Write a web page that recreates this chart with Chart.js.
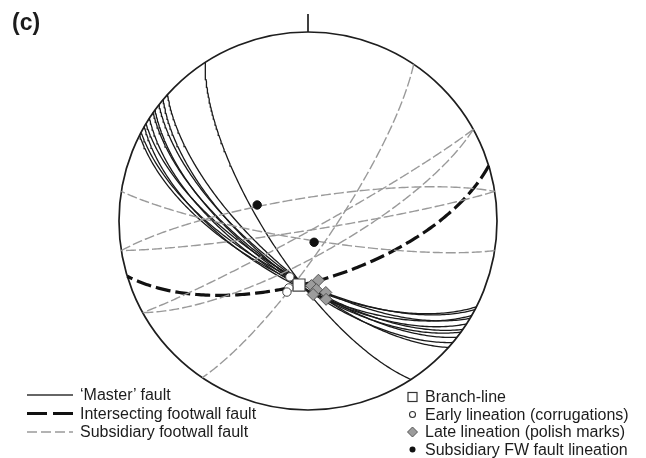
<!DOCTYPE html>
<html>
<head>
<meta charset="utf-8">
<script src="https://cdn.jsdelivr.net/npm/chart.js@4/dist/chart.umd.min.js"></script>
<style>
  html, body { margin: 0; padding: 0; background: #fff; }
  #wrap { position: relative; width: 646px; height: 458px; font-family: "Liberation Sans", Arial, sans-serif; color: #1c1c1c; }
  #net { position: absolute; left: 0; top: 0; }
  #keys { position: absolute; left: 0; top: 0; }
  .lbl { position: absolute; font-size: 16px; line-height: 18px; white-space: nowrap; }
  #tag { position: absolute; left: 12px; top: 8px; font-size: 23px; font-weight: bold; line-height: 28px; }
</style>
</head>
<body>
<div id="wrap">
  <canvas id="net" width="646" height="458"></canvas>
  <div id="tag">(c)</div>
  <svg id="keys" width="646" height="458"></svg>
</div>
<script>
// Planes: dip direction / dip (degrees)
const masterDipDir    = [207, 208, 210, 211, 213, 215, 216, 218, 220, 222, 237];
const masterDip       = [64, 65, 63, 66, 64, 66, 65, 67, 66, 68, 72];
const footwallDipDir  = [163];
const footwallDip     = [64];
const subsidDipDir    = [124, 351, 189, 151, 171, 151];
const subsidDip       = [79, 80, 82, 86, 86, 75];

// Lineations: trend / plunge (degrees)
const branchTrend  = [188];
const branchPlunge = [62];
const earlyTrend   = [198, 196, 196.5];
const earlyPlunge  = [64.6, 59.8, 57.8];
const lateTrend    = [170, 177, 173, 176, 166, 167];
const latePlunge   = [64, 62, 60, 58, 58, 55];
const fwLinTrend   = [287.5, 164];
const fwLinPlunge  = [67, 80.5];

// Legend entries
const lineKeys  = ["\u2018Master\u2019 fault", "Intersecting footwall fault", "Subsidiary footwall fault"];
const pointKeys = ["Branch-line", "Early lineation (corrugations)", "Late lineation (polish marks)", "Subsidiary FW fault lineation"];

const RAD = Math.PI / 180;

// Lower-hemisphere equal-area (Schmidt) projection of a line, unit primitive
function projectLine(trend, plunge) {
  const t = trend * RAD, p = plunge * RAD;
  const r = Math.SQRT2 * Math.sin((Math.PI / 2 - p) / 2);
  return { x: r * Math.sin(t), y: r * Math.cos(t) };
}

// Trace of a plane: sweep the lines lying in it from strike to strike
function greatCircle(dipDir, dip) {
  const s = (dipDir - 90) * RAD, d = dipDir * RAD, dp = dip * RAD;
  const pts = [];
  for (let a = 0; a <= 180; a += 1) {
    const ca = Math.cos(a * RAD), sa = Math.sin(a * RAD);
    const e = ca * Math.sin(s) + sa * Math.sin(d) * Math.cos(dp);
    const n = ca * Math.cos(s) + sa * Math.cos(d) * Math.cos(dp);
    const down = sa * Math.sin(dp);
    const k = 1 / Math.sqrt(1 + down);
    pts.push({ x: e * k, y: n * k });
  }
  return pts;
}

function planeSets(dirs, dips, style) {
  return dirs.map((dd, i) => Object.assign({
    type: 'line', data: greatCircle(dd, dips[i]), pointRadius: 0, fill: false,
    tension: 0, order: 2
  }, style));
}

function lineationSet(trends, plunges, style) {
  return Object.assign({
    type: 'scatter', data: trends.map((t, i) => projectLine(t, plunges[i])), order: 0
  }, style);
}

const datasets = [
  ...planeSets(subsidDipDir, subsidDip, { borderColor: '#9a9a9a', borderWidth: 1.4, borderDash: [10, 3] }),
  ...planeSets(masterDipDir, masterDip, { borderColor: '#1a1a1a', borderWidth: 1.3 }),
  ...planeSets(footwallDipDir, footwallDip, { borderColor: '#111', borderWidth: 3.2, borderDash: [15, 5] }),
  lineationSet(lateTrend, latePlunge, { pointStyle: 'rectRot', pointRadius: 6, backgroundColor: '#9c9c9c', borderColor: '#555', borderWidth: 1 }),
  lineationSet(earlyTrend, earlyPlunge, { pointStyle: 'circle', pointRadius: 4.2, backgroundColor: '#fff', borderColor: '#444', borderWidth: 1 }),
  lineationSet(branchTrend, branchPlunge, { pointStyle: 'rect', pointRadius: 8.5, backgroundColor: '#fff', borderColor: '#444', borderWidth: 1.2 }),
  lineationSet(fwLinTrend, fwLinPlunge, { pointStyle: 'circle', pointRadius: 4.2, backgroundColor: '#111', borderColor: '#111', borderWidth: 1 })
];

// Primitive circle and north tick, placed through the scales
const primitive = {
  id: 'primitive',
  beforeDatasetsDraw(chart) {
    const { ctx, scales: { x, y } } = chart;
    const cx = x.getPixelForValue(0), cy = y.getPixelForValue(0);
    const R = x.getPixelForValue(1) - cx;
    ctx.save();
    ctx.strokeStyle = '#1e1e1e';
    ctx.lineWidth = 1.7;
    ctx.beginPath();
    ctx.arc(cx, cy, R, 0, 2 * Math.PI);
    ctx.stroke();
    ctx.beginPath();
    ctx.moveTo(cx, cy - R);
    ctx.lineTo(cx, cy - R * 1.095);
    ctx.stroke();
    ctx.restore();
  }
};

new Chart(document.getElementById('net'), {
  type: 'scatter',
  data: { datasets },
  options: {
    responsive: false,
    animation: false,
    events: [],
    layout: { padding: { left: 119, right: 149, top: 32, bottom: 48 } },
    scales: {
      x: { type: 'linear', min: -1, max: 1, display: false },
      y: { type: 'linear', min: -1, max: 1, display: false }
    },
    elements: { line: { borderCapStyle: 'butt' } },
    clip: false,
    plugins: { legend: { display: false }, tooltip: { enabled: false } }
  },
  plugins: [primitive]
});

// Key: samples in SVG, labels as text
const svg = document.getElementById('keys');
const NS = 'http://www.w3.org/2000/svg';
function el(name, attrs) {
  const e = document.createElementNS(NS, name);
  for (const k in attrs) e.setAttribute(k, attrs[k]);
  svg.appendChild(e);
  return e;
}
function label(text, left, cy) {
  const d = document.createElement('div');
  d.className = 'lbl';
  d.style.left = left + 'px';
  d.style.top = (cy - 9) + 'px';
  d.textContent = text;
  document.getElementById('wrap').appendChild(d);
}
const leftRows = [395, 413.5, 432];
el('line', { x1: 27, y1: leftRows[0], x2: 73, y2: leftRows[0], stroke: '#333', 'stroke-width': 1.3 });
el('line', { x1: 27, y1: leftRows[1], x2: 73, y2: leftRows[1], stroke: '#111', 'stroke-width': 3, 'stroke-dasharray': '20 6' });
el('line', { x1: 27, y1: leftRows[2], x2: 73, y2: leftRows[2], stroke: '#9a9a9a', 'stroke-width': 1.3, 'stroke-dasharray': '10 4' });
lineKeys.forEach((t, i) => label(t, 80, leftRows[i]));

const rightRows = [397, 414.5, 432, 449.5];
el('rect', { x: 408, y: rightRows[0] - 4.5, width: 9, height: 9, fill: '#fff', stroke: '#333', 'stroke-width': 1.2 });
el('circle', { cx: 412.5, cy: rightRows[1], r: 3, fill: '#fff', stroke: '#333', 'stroke-width': 1.1 });
el('polygon', { points: `${412.5},${rightRows[2] - 5} ${417.5},${rightRows[2]} ${412.5},${rightRows[2] + 5} ${407.5},${rightRows[2]}`, fill: '#9c9c9c', stroke: '#555', 'stroke-width': 1 });
el('circle', { cx: 412.5, cy: rightRows[3], r: 3, fill: '#111' });
pointKeys.forEach((t, i) => label(t, 425, rightRows[i]));
</script>
</body>
</html>
